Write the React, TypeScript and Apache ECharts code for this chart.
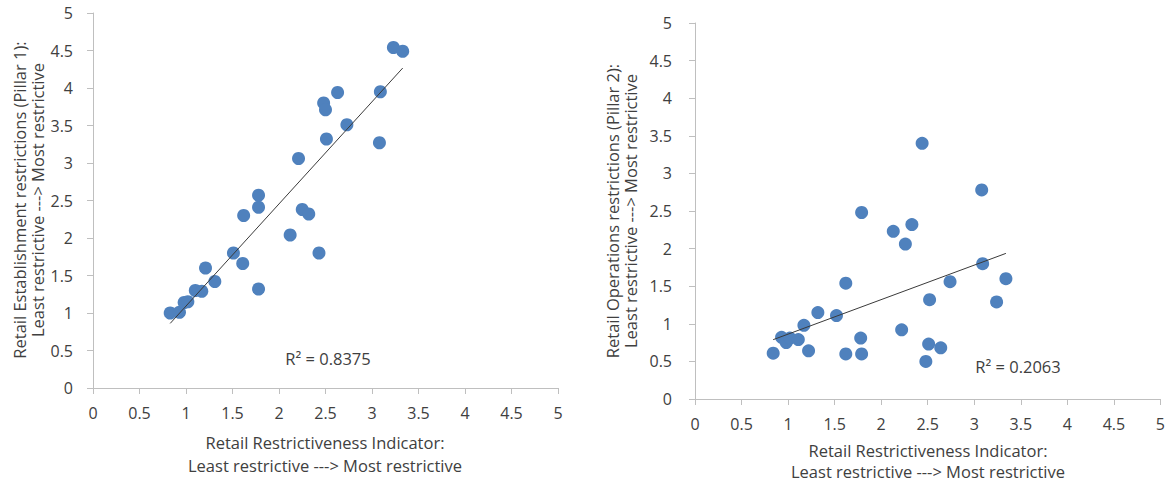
import React, { useEffect, useRef } from "react";
import * as echarts from "echarts";

const xValues = [0.83, 0.93, 0.98, 1.02, 1.1, 1.17, 1.21, 1.31, 1.51, 1.61, 1.62, 1.78, 1.78, 1.78, 2.12, 2.21, 2.25, 2.32, 2.43, 2.48, 2.5, 2.51, 2.63, 2.73, 3.08, 3.09, 3.23, 3.33];
const pillar1 = [1.0, 1.01, 1.14, 1.15, 1.3, 1.29, 1.6, 1.42, 1.8, 1.66, 2.3, 2.41, 2.57, 1.32, 2.04, 3.06, 2.38, 2.32, 1.8, 3.8, 3.71, 3.32, 3.94, 3.51, 3.27, 3.95, 4.54, 4.49];
const xValues2 = [0.84, 0.93, 0.98, 1.02, 1.11, 1.17, 1.22, 1.32, 1.52, 1.62, 1.62, 1.79, 1.78, 1.79, 2.13, 2.22, 2.26, 2.33, 2.44, 2.48, 2.51, 2.52, 2.64, 2.74, 3.08, 3.09, 3.24, 3.34];
const pillar2 = [0.61, 0.82, 0.75, 0.81, 0.79, 0.98, 0.64, 1.15, 1.11, 1.54, 0.6, 2.48, 0.81, 0.6, 2.23, 0.92, 2.06, 2.32, 3.4, 0.5, 0.73, 1.32, 0.68, 1.56, 2.78, 1.8, 1.29, 1.6];
const axisTicks = { min: 0, max: 5, interval: 0.5 };
const r2Labels = ["R² = 0.8375", "R² = 0.2063"];
const xTitle = "Retail Restrictiveness Indicator:\nLeast restrictive ---> Most restrictive";
const yTitle1 = "Retail Establishment restrictions (Pillar 1):\nLeast restrictive ---> Most restrictive";
const yTitle2 = "Retail Operations restrictions (Pillar 2):\nLeast restrictive ---> Most restrictive";

function trend(xs: number[], ys: number[]) {
  const n = xs.length;
  const mx = xs.reduce((a, b) => a + b, 0) / n;
  const my = ys.reduce((a, b) => a + b, 0) / n;
  let sxy = 0, sxx = 0;
  for (let i = 0; i < n; i++) {
    sxy += (xs[i] - mx) * (ys[i] - my);
    sxx += (xs[i] - mx) * (xs[i] - mx);
  }
  const b = sxy / sxx;
  const a = my - b * mx;
  const x0 = Math.min(...xs), x1 = Math.max(...xs);
  return [[x0, a + b * x0], [x1, a + b * x1]];
}

const FONT = "Open Sans";
const TXT = "#404040";
const AX = "#bfbfbf";
const TICK_FS = 16;
const TITLE_FS = 16.5;

export default function App() {
  const ref = useRef<HTMLDivElement>(null);
  useEffect(() => {
    document.body.style.margin = "0";
    const chart = echarts.init(ref.current!, null, { renderer: "svg" });
    const mkX = (gi: number) => ({
      type: "value", gridIndex: gi, ...axisTicks,
      axisLine: { show: true, lineStyle: { color: AX } },
      axisTick: { show: true, length: 6, lineStyle: { color: AX } },
      axisLabel: { color: TXT, fontFamily: FONT, fontSize: TICK_FS, margin: 17 },
      splitLine: { show: false },
    });
    const mkY = (gi: number, margin: number) => ({
      type: "value", gridIndex: gi, ...axisTicks,
      axisLine: { show: true, lineStyle: { color: AX } },
      axisTick: { show: true, length: 6, lineStyle: { color: AX } },
      axisLabel: { color: TXT, fontFamily: FONT, fontSize: TICK_FS, margin },
      splitLine: { show: false },
    });
    const scatter = (gi: number, xs: number[], ys: number[]) => ({
      type: "scatter", xAxisIndex: gi, yAxisIndex: gi,
      data: xs.map((x, i) => [x, ys[i]]),
      symbolSize: 13,
      itemStyle: { color: "#4f81bd", opacity: 1 },
      z: 2,
    });
    const line = (gi: number, xs: number[], ys: number[]) => ({
      type: "line", xAxisIndex: gi, yAxisIndex: gi,
      data: trend(xs, ys), showSymbol: false, symbol: "none",
      lineStyle: { color: "#3a3a3a", width: 1 },
      z: 3,
    });
    const textStyle = { fill: TXT, fontFamily: FONT, fontSize: TITLE_FS };
    chart.setOption({
      animation: false,
      grid: [
        { left: 93, top: 13, width: 465, height: 375 },
        { left: 695, top: 23, width: 466, height: 376 },
      ],
      xAxis: [mkX(0), mkX(1)],
      yAxis: [mkY(0, 20), mkY(1, 23)],
      series: [scatter(0, xValues, pillar1), line(0, xValues, pillar1), scatter(1, xValues2, pillar2), line(1, xValues2, pillar2)],
      graphic: [
        { type: "text", x: 325, y: 454, style: { ...textStyle, text: xTitle, align: "center", verticalAlign: "middle", lineHeight: 22.5 } },
        { type: "text", x: 928, y: 461, style: { ...textStyle, text: xTitle, align: "center", verticalAlign: "middle", lineHeight: 21 } },
        { type: "text", x: 28.5, y: 200, rotation: Math.PI / 2, style: { ...textStyle, text: yTitle1, align: "center", verticalAlign: "middle", lineHeight: 17.5 } },
        { type: "text", x: 621.5, y: 211, rotation: Math.PI / 2, style: { ...textStyle, text: yTitle2, align: "center", verticalAlign: "middle", lineHeight: 17.5 } },
        { type: "text", x: 328, y: 358, style: { ...textStyle, text: r2Labels[0], align: "center", verticalAlign: "middle" } },
        { type: "text", x: 1018, y: 366, style: { ...textStyle, text: r2Labels[1], align: "center", verticalAlign: "middle" } },
      ],
    });
    return () => chart.dispose();
  }, []);
  return <div ref={ref} style={{ width: 1168, height: 483 }} />;
}
